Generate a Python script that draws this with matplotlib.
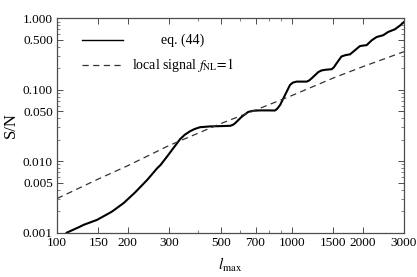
import numpy as np
import matplotlib
matplotlib.use("Agg")
import matplotlib.pyplot as plt
from matplotlib.ticker import FixedLocator, FixedFormatter, NullFormatter

plt.rcParams['font.family'] = ['Liberation Serif', 'DejaVu Serif']
plt.rcParams['mathtext.fontset'] = 'stix'

# eq. (44) curve
l_eq = [110, 118, 125, 130, 148, 168, 172, 192, 215, 242, 267, 276, 294, 315,
        334, 350, 368, 385, 406, 448, 500, 546, 560, 573, 612, 652, 685, 731,
        790, 846, 865, 891, 935, 982, 1010, 1048, 1157, 1185, 1215, 1296,
        1335, 1383, 1478, 1510, 1550, 1625, 1690, 1768, 1855, 1947, 2010,
        2081, 2186, 2295, 2448, 2567, 2746, 2893, 3000]
sn_eq = [0.00100, 0.00111, 0.00121, 0.00129, 0.00151, 0.00190, 0.00199,
         0.00259, 0.00366, 0.00547, 0.00798, 0.00887, 0.0116, 0.0157,
         0.0203, 0.0235, 0.0262, 0.0282, 0.0299, 0.0307, 0.0310, 0.0313,
         0.0322, 0.0340, 0.0420, 0.0490, 0.0508, 0.0514, 0.0514, 0.0512,
         0.0540, 0.0613, 0.0846, 0.117, 0.126, 0.130, 0.130, 0.135, 0.145,
         0.177, 0.186, 0.190, 0.194, 0.207, 0.235, 0.292, 0.305, 0.313,
         0.357, 0.408, 0.415, 0.421, 0.492, 0.547, 0.580, 0.643, 0.702,
         0.798, 0.888]

# local signal fNL=1
l_loc = [100, 150, 200, 300, 500, 700, 1000, 1500, 2000, 3000]
sn_loc = [0.0030, 0.00564, 0.00865, 0.0166, 0.0338, 0.052, 0.083, 0.146,
          0.21, 0.341]

xticks = [100, 150, 200, 300, 500, 700, 1000, 1500, 2000, 3000]
yticks = [0.001, 0.005, 0.010, 0.050, 0.100, 0.500, 1.000]
yticklabels = ['0.001', '0.005', '0.010', '0.050', '0.100', '0.500', '1.000']

fig = plt.figure(figsize=(4.17, 2.77), dpi=100)
ax = fig.add_axes([0.1367, 0.160, 0.8321, 0.774])

ax.plot(l_eq, sn_eq, color='black', lw=1.5)
ax.plot(l_loc, sn_loc, color='0.2', lw=0.9, dashes=(5, 3.5))

ax.set_xscale('log')
ax.set_yscale('log')
ax.set_xlim(100, 3000)
ax.set_ylim(0.001, 1.0)

ax.xaxis.set_major_locator(FixedLocator(xticks))
ax.xaxis.set_major_formatter(FixedFormatter([str(t) for t in xticks]))
xminor = [v for d in (100, 1000) for v in np.arange(1, 10) * d
          if v not in xticks and 100 < v < 3000]
ax.xaxis.set_minor_locator(FixedLocator(xminor))
ax.xaxis.set_minor_formatter(NullFormatter())

ax.yaxis.set_major_locator(FixedLocator(yticks))
ax.yaxis.set_major_formatter(FixedFormatter(yticklabels))
yminor = [round(m * d, 6) for d in (0.001, 0.01, 0.1) for m in range(2, 10) if m != 5]
ax.yaxis.set_minor_locator(FixedLocator(yminor))
ax.yaxis.set_minor_formatter(NullFormatter())

for s in ax.spines.values():
    s.set_color('0.3')
    s.set_linewidth(0.9)
ax.tick_params(which='both', direction='in', top=True, right=True,
               color='0.3', labelsize=9.5, pad=3)
ax.tick_params(which='major', length=4, width=0.7)
ax.tick_params(which='minor', length=2, width=0.5)

ax.set_xlabel(r'$l_{\rm max}$', fontsize=11, labelpad=5)
ax.set_ylabel('S/N', fontsize=12, labelpad=3)

# legend drawn by hand, text centred like the original
ax.plot([0.072, 0.19], [0.899, 0.899], transform=ax.transAxes,
        color='black', lw=1.0)
ax.plot([0.072, 0.19], [0.782, 0.782], transform=ax.transAxes,
        color='0.2', lw=0.9, dashes=(5, 3.5))
ax.text(0.363, 0.899, 'eq. (44)', transform=ax.transAxes, ha='center',
        va='center', fontsize=10)
ax.text(0.363, 0.782, r'local signal $f_{\rm NL}\!=\!1$', transform=ax.transAxes,
        ha='center', va='center', fontsize=10)

fig.savefig('out.png', dpi=100)
